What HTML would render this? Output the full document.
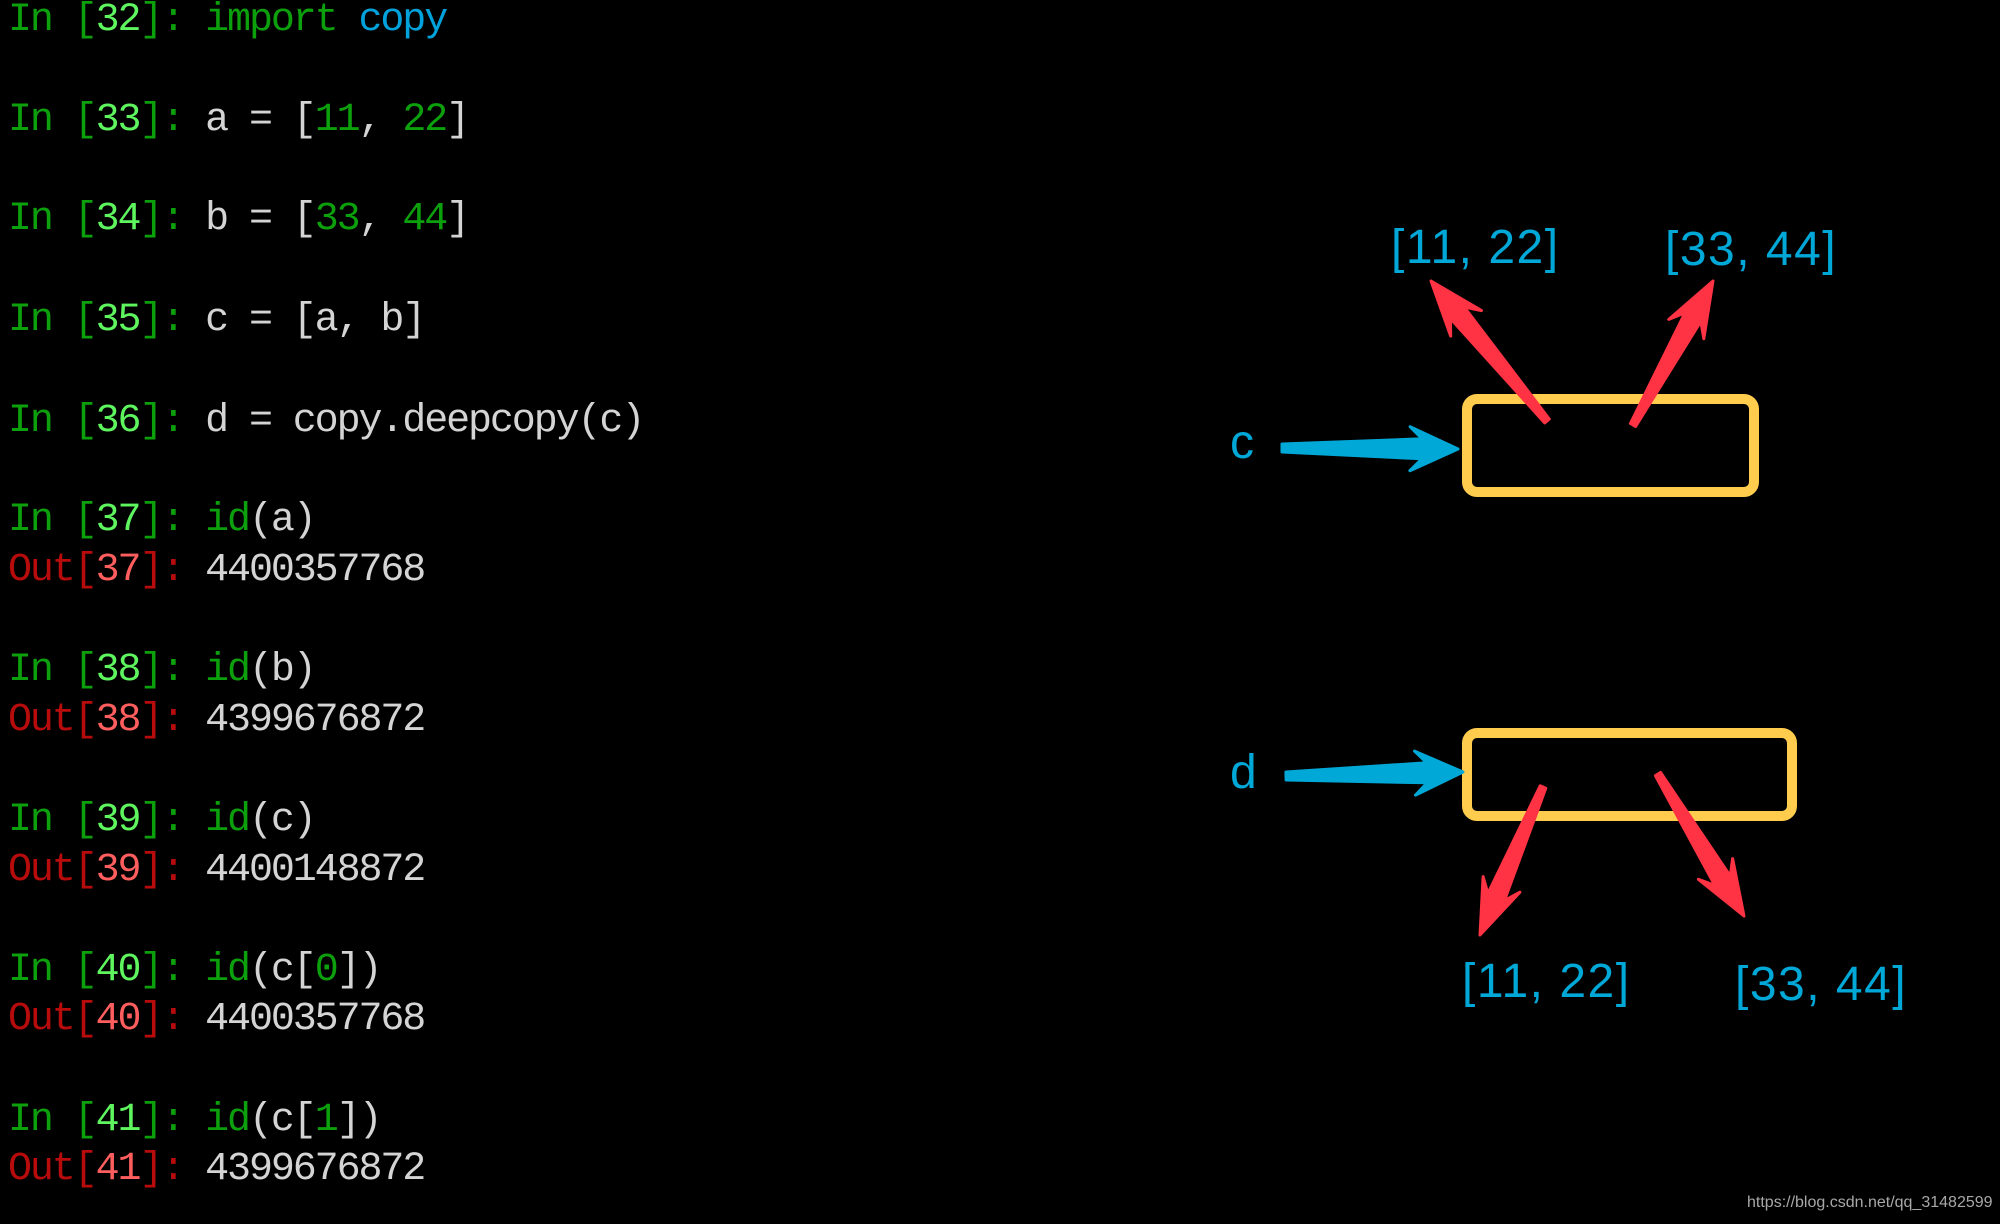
<!DOCTYPE html>
<html><head><meta charset="utf-8">
<style>
html,body{margin:0;padding:0;background:#000;}
#wrap{position:relative;width:2000px;height:1224px;overflow:hidden;background:#000;}
.l{position:absolute;left:8px;font-family:"Liberation Mono",monospace;font-size:40px;line-height:40px;letter-spacing:-2.1px;white-space:pre;color:#d4d4d4;}
.g{color:#0ca00c}.G{color:#5ef55e}.b{color:#00a2dc}.r{color:#b80c0c}.R{color:#ff5e5e}.w{color:#d4d4d4}
.lab{position:absolute;font-family:"Liberation Sans",sans-serif;color:#00a8d8;font-size:48px;line-height:48px;letter-spacing:1.5px;white-space:pre;}
</style></head><body><div id="wrap">
<div class="l" style="top:1px"><span class="g">In [</span><span class="G">32</span><span class="g">]: import </span><span class="b">copy</span></div>
<div class="l" style="top:101px"><span class="g">In [</span><span class="G">33</span><span class="g">]: </span>a = [<span class="g">11</span>, <span class="g">22</span>]</div>
<div class="l" style="top:200px"><span class="g">In [</span><span class="G">34</span><span class="g">]: </span>b = [<span class="g">33</span>, <span class="g">44</span>]</div>
<div class="l" style="top:301px"><span class="g">In [</span><span class="G">35</span><span class="g">]: </span>c = [a, b]</div>
<div class="l" style="top:402px"><span class="g">In [</span><span class="G">36</span><span class="g">]: </span>d = copy.deepcopy(c)</div>
<div class="l" style="top:501px"><span class="g">In [</span><span class="G">37</span><span class="g">]: id</span>(a)</div>
<div class="l" style="top:551px"><span class="r">Out[</span><span class="R">37</span><span class="r">]: </span>4400357768</div>
<div class="l" style="top:651px"><span class="g">In [</span><span class="G">38</span><span class="g">]: id</span>(b)</div>
<div class="l" style="top:701px"><span class="r">Out[</span><span class="R">38</span><span class="r">]: </span>4399676872</div>
<div class="l" style="top:801px"><span class="g">In [</span><span class="G">39</span><span class="g">]: id</span>(c)</div>
<div class="l" style="top:851px"><span class="r">Out[</span><span class="R">39</span><span class="r">]: </span>4400148872</div>
<div class="l" style="top:951px"><span class="g">In [</span><span class="G">40</span><span class="g">]: id</span>(c[<span class="g">0</span>])</div>
<div class="l" style="top:1000px"><span class="r">Out[</span><span class="R">40</span><span class="r">]: </span>4400357768</div>
<div class="l" style="top:1101px"><span class="g">In [</span><span class="G">41</span><span class="g">]: id</span>(c[<span class="g">1</span>])</div>
<div class="l" style="top:1150px"><span class="r">Out[</span><span class="R">41</span><span class="r">]: </span>4399676872</div>

<svg id="s" width="2000" height="1224" style="position:absolute;left:0;top:0">
<rect x="1467" y="399" width="287" height="93" rx="10" fill="none" stroke="#ffcc4d" stroke-width="10"/>
<rect x="1467" y="733" width="325" height="83" rx="10" fill="none" stroke="#ffcc4d" stroke-width="10"/>
</svg>
<div class="lab" style="left:1230px;top:419px">c</div>
<div class="lab" style="left:1230px;top:749px">d</div>
<div class="lab" style="left:1391px;top:224px">[11, 22]</div>
<div class="lab" style="left:1665px;top:226px">[33, 44]</div>
<div class="lab" style="left:1462px;top:958px">[11, 22]</div>
<div class="lab" style="left:1735px;top:961px">[33, 44]</div>
<div style="position:absolute;left:1747px;top:1194px;font-family:'Liberation Sans',sans-serif;font-size:16px;color:#a8a8a8;white-space:pre">https://blog.csdn.net/qq_31482599</div>
</div>
<script>
var s=document.getElementById('s');
function arr(x1,y1,x2,y2,w1,w2,L,H,c){
 var dx=x2-x1,dy=y2-y1,d=Math.hypot(dx,dy),ux=dx/d,uy=dy/d,px=-uy,py=ux;
 var bx=x2-ux*L,by=y2-uy*L, nx=x2-ux*(L*0.75),ny=y2-uy*(L*0.75);
 var p=[[x1+px*w1,y1+py*w1],[nx+px*w2,ny+py*w2],[bx+px*H,by+py*H],[x2,y2],[bx-px*H,by-py*H],[nx-px*w2,ny-py*w2],[x1-px*w1,y1-py*w1]];
 var e=document.createElementNS('http://www.w3.org/2000/svg','polygon');
 e.setAttribute('points',p.map(function(q){return q[0].toFixed(1)+','+q[1].toFixed(1)}).join(' '));
 e.setAttribute('fill',c);e.setAttribute('stroke',c);e.setAttribute('stroke-width','3');e.setAttribute('stroke-linejoin','round');
 s.appendChild(e);
}
var R='#ff3344',C='#00a8d8';
arr(1282,448,1458,449,4,10,48,22,C);
arr(1286,776,1463,772,4,10,48,22,C);
arr(1547,421,1431,281,3,9,55,20,R);
arr(1633,425,1713,281,3,9,55,20,R);
arr(1543,787,1480,935,3,9,55,20,R);
arr(1658,774,1744,916,3,9,55,20,R);
</script>
</body></html>
